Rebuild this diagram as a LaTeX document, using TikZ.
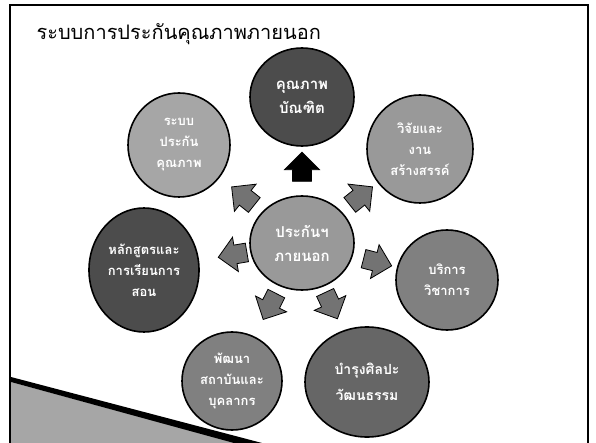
\documentclass[tikz,border=0pt]{standalone}
\usepackage{fontspec}
\newfontfamily\thaifont[Script=Thai]{Loma}
\usetikzlibrary{arrows.meta,positioning,calc,shapes.geometric,shapes.arrows}

\begin{document}
\begin{tikzpicture}[x=1pt,y=-1pt,
    topic/.style={ellipse, draw=black, line width=1.6pt, align=center, text=white,
        inner sep=0pt, font=\thaifont\bfseries\fontsize{13}{21}\selectfont},
    flow/.style={single arrow, draw=black, line width=0.8pt, fill=black!55,
        minimum height=29pt, inner xsep=0pt, inner ysep=9pt,
        single arrow head extend=8pt}]
    \useasboundingbox (0,0) rectangle (596,443);
    % frame of the slide
    \draw[line width=1.6pt] (10,443) -- (10,5) -- (588,5) -- (588,443);
    % wedge at the bottom left
    \fill[black!35] (11,382) -- (236,443) -- (11,443) -- cycle;
    \fill[black] (11,377) -- (262,443) -- (234,443) -- (11,382) -- cycle;
    \node[anchor=base west, font=\thaifont\fontsize{20}{24}\selectfont] (title) at (33,40) {ระบบการประกันคุณภาพภายนอก};

    \node[topic, fill=black!40, minimum width=104pt, minimum height=94pt,
        font=\thaifont\bfseries\fontsize{15}{24}\selectfont] (core) at (302,243) {ประกันฯ\\ภายนอก};
    \node[topic, fill=black!70, minimum width=104pt, minimum height=98pt,
        font=\thaifont\bfseries\fontsize{15}{24}\selectfont] (grad) at (302,97) {คุณภาพ\\บัณฑิต};
    \node[topic, fill=black!40, minimum width=106pt, minimum height=108pt] (research) at (420,149) {วิจัยและ\\งาน\\สร้างสรรค์};
    \node[topic, fill=black!50, minimum width=102pt, minimum height=100pt] (service) at (447,280) {บริการ\\วิชาการ};
    \node[topic, fill=black!60, minimum width=124pt, minimum height=110pt,
        font=\thaifont\bfseries\fontsize{14}{26}\selectfont] (culture) at (367,382) {บำรุงศิลปะ\\วัฒนธรรม};
    \node[topic, fill=black!50, minimum width=100pt, minimum height=98pt] (staff) at (232,381) {พัฒนา\\สถาบันและ\\บุคลากร};
    \node[topic, fill=black!70, minimum width=110pt, minimum height=124pt] (course) at (144,270) {หลักสูตรและ\\การเรียนการ\\สอน};
    \node[topic, fill=black!35, minimum width=102pt, minimum height=104pt] (qa) at (179,145) {ระบบ\\ประกัน\\คุณภาพ};

    % arrows from the centre out to each topic
    \foreach \t/\f/\c in {grad/0.49/black, research/0.47/black!55, service/0.49/black!55,
        culture/0.42/black!55, staff/0.43/black!55, course/0.41/black!55, qa/0.45/black!55} {
        \path let \p1=($(\t)-(core)$), \n1={atan2(\y1,\x1)} in
            node[flow, fill=\c, rotate=\n1] (to-\t) at ($(core)!\f!(\t)$) {};
    }
\end{tikzpicture}
\end{document}
